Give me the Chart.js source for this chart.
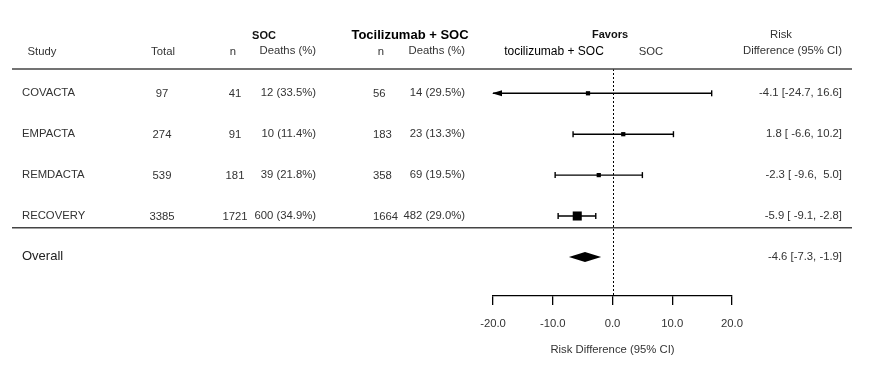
<!DOCTYPE html>
<html>
<head>
<meta charset="utf-8">
<script src="https://cdn.jsdelivr.net/npm/chart.js@4.4.0/dist/chart.umd.min.js"></script>
<style>
  html, body { margin: 0; padding: 0; background: #fff; }
</style>
</head>
<body>
<canvas id="forestChart" width="889" height="371"></canvas>
<script>
// study data
const studies = ['COVACTA', 'EMPACTA', 'REMDACTA', 'RECOVERY'];
const totals = [97, 274, 539, 3385];
const socN = [41, 91, 181, 1721];
const socDeaths = [12, 10, 39, 600];
const socPct = [33.5, 11.4, 21.8, 34.9];
const tocN = [56, 183, 358, 1664];
const tocDeaths = [14, 23, 69, 482];
const tocPct = [29.5, 13.3, 19.5, 29.0];
const rd = [-4.1, 1.8, -2.3, -5.9];
const rdLo = [-24.7, -6.6, -9.6, -9.1];
const rdHi = [16.6, 10.2, 5.0, -2.8];
const overallRd = -4.6;
const overallLo = -7.3;
const overallHi = -1.9;
const xTicks = [-20, -10, 0, 10, 20];

const X_MIN = -20, X_MAX = 20;
const FAM = '"Liberation Sans", Arial, Helvetica, sans-serif';
const GREY = '#333';
const overallRow = studies.length;

// whiskers, with caps drawn as rotated 'line' points
const whiskers = studies.map((s, i) => ({
    label: s,
    showLine: true,
    data: [
        { x: Math.max(rdLo[i], X_MIN), y: i },
        { x: Math.min(rdHi[i], X_MAX), y: i }
    ],
    borderColor: '#000',
    borderWidth: 1.4,
    pointStyle: 'line',
    rotation: 90,
    pointRadius: [rdLo[i] < X_MIN ? 0 : 3, rdHi[i] > X_MAX ? 0 : 3],
    pointBorderColor: '#000',
    pointBorderWidth: 1.4,
    pointHoverRadius: 0
}));

const squares = {
    label: 'estimate',
    data: rd.map((v, i) => ({ x: v, y: i })),
    pointStyle: 'rect',
    pointRadius: [3, 3, 3, 6.4],
    backgroundColor: '#000',
    borderWidth: 0
};

const fmt = v => v.toFixed(1);
const ciText = (e, lo, hi) => fmt(e) + ' [' + fmt(lo).padStart(5) + ', ' + fmt(hi).padStart(4) + ']';

const forestPlugin = {
    id: 'forest',
    beforeDatasetsDraw(chart) {
        const { ctx, chartArea, scales: { x, y } } = chart;
        ctx.save();
        // reference line at 0
        ctx.strokeStyle = '#000';
        ctx.lineWidth = 1;
        ctx.setLineDash([2, 2]);
        const x0 = Math.round(x.getPixelForValue(0)) + 0.5;
        ctx.beginPath();
        ctx.moveTo(x0, chartArea.top);
        ctx.lineTo(x0, chartArea.bottom - 1);
        ctx.stroke();
        ctx.setLineDash([]);
        // header and separator lines
        ctx.strokeStyle = '#444';
        ctx.lineWidth = 1.5;
        [chartArea.top, y.getPixelForValue(3.29)].forEach(py => {
            ctx.beginPath();
            ctx.moveTo(12, py);
            ctx.lineTo(852, py);
            ctx.stroke();
        });
        ctx.restore();
    },
    afterDatasetsDraw(chart) {
        const { ctx, scales: { x, y } } = chart;
        ctx.save();
        ctx.fillStyle = '#000';
        // arrows for truncated intervals
        studies.forEach((s, i) => {
            const py = y.getPixelForValue(i);
            if (rdLo[i] < X_MIN) {
                const tip = x.getPixelForValue(X_MIN) - 1;
                ctx.beginPath();
                ctx.moveTo(tip, py);
                ctx.lineTo(tip + 10, py - 3);
                ctx.lineTo(tip + 10, py + 3);
                ctx.closePath();
                ctx.fill();
            }
            if (rdHi[i] > X_MAX) {
                const tip = x.getPixelForValue(X_MAX) + 1;
                ctx.beginPath();
                ctx.moveTo(tip, py);
                ctx.lineTo(tip - 10, py - 3);
                ctx.lineTo(tip - 10, py + 3);
                ctx.closePath();
                ctx.fill();
            }
        });
        // overall diamond
        const oy = y.getPixelForValue(overallRow);
        ctx.beginPath();
        ctx.moveTo(x.getPixelForValue(overallLo), oy);
        ctx.lineTo(x.getPixelForValue(overallRd), oy - 5);
        ctx.lineTo(x.getPixelForValue(overallHi), oy);
        ctx.lineTo(x.getPixelForValue(overallRd), oy + 5);
        ctx.closePath();
        ctx.fill();
        ctx.restore();
    },
    afterDraw(chart) {
        const { ctx, scales: { y } } = chart;
        const txt = (s, px, py, align, font, color) => {
            ctx.font = font;
            ctx.fillStyle = color || GREY;
            ctx.textAlign = align;
            ctx.fillText(s, px, py);
        };
        const f11 = '11.3px ' + FAM;
        const b11 = 'bold 11px ' + FAM;
        ctx.save();
        ctx.textBaseline = 'middle';
        // header
        txt('SOC', 264, 36, 'center', b11, '#111');
        txt('Tocilizumab + SOC', 410, 35, 'center', 'bold 13px ' + FAM, '#000');
        txt('Favors', 610, 35, 'center', b11, '#111');
        txt('Risk', 781, 35, 'center', f11);
        txt('Study', 42, 52, 'center', f11);
        txt('Total', 163, 52, 'center', f11);
        txt('n', 233, 52, 'center', f11);
        txt('Deaths (%)', 316, 51, 'right', f11);
        txt('n', 381, 52, 'center', f11);
        txt('Deaths (%)', 465, 51, 'right', f11);
        txt('tocilizumab + SOC', 554, 52, 'center', '12px ' + FAM, '#000');
        txt('SOC', 651, 52, 'center', f11);
        txt('Difference (95% CI)', 842, 51, 'right', f11);
        // rows
        studies.forEach((s, i) => {
            const py = y.getPixelForValue(i);
            txt(s, 22, py, 'left', f11);
            txt(String(totals[i]), 162, py + 1, 'center', f11);
            txt(String(socN[i]), 235, py + 1, 'center', f11);
            txt(socDeaths[i] + ' (' + fmt(socPct[i]) + '%)', 316, py, 'right', f11);
            txt(String(tocN[i]), 373, py + 1, 'left', f11);
            txt(tocDeaths[i] + ' (' + fmt(tocPct[i]) + '%)', 465, py, 'right', f11);
            txt(ciText(rd[i], rdLo[i], rdHi[i]), 842, py, 'right', f11);
        });
        const oy = y.getPixelForValue(overallRow);
        txt('Overall', 22, oy, 'left', '13px ' + FAM, '#222');
        txt(fmt(overallRd) + ' [' + fmt(overallLo) + ', ' + fmt(overallHi) + ']', 842, oy, 'right', f11);
        ctx.restore();
    }
};

new Chart(document.getElementById('forestChart').getContext('2d'), {
    type: 'scatter',
    data: { datasets: [...whiskers, squares] },
    plugins: [forestPlugin],
    options: {
        responsive: false,
        animation: false,
        devicePixelRatio: 1,
        layout: { padding: { left: 493, right: 157, top: 69, bottom: 0 } },
        plugins: { legend: { display: false }, tooltip: { enabled: false } },
        scales: {
            x: {
                type: 'linear',
                min: X_MIN,
                max: X_MAX,
                afterBuildTicks: scale => { scale.ticks = xTicks.map(v => ({ value: v })); },
                afterFit: scale => { scale.height = 75; },
                grid: { drawOnChartArea: false, drawTicks: true, tickLength: 9, color: '#000', lineWidth: 1.3 },
                border: { display: true, color: '#000', width: 1.3 },
                ticks: {
                    padding: 12,
                    color: GREY,
                    font: { size: 11.3, family: FAM },
                    maxRotation: 0,
                    callback: v => fmt(v)
                },
                title: {
                    display: true,
                    text: 'Risk Difference (95% CI)',
                    color: GREY,
                    font: { size: 11.3, family: FAM },
                    padding: { top: 0, bottom: 14 }
                }
            },
            y: {
                type: 'linear',
                display: false,
                reverse: true,
                min: -0.594,
                max: 4.956
            }
        }
    }
});
</script>
</body>
</html>
